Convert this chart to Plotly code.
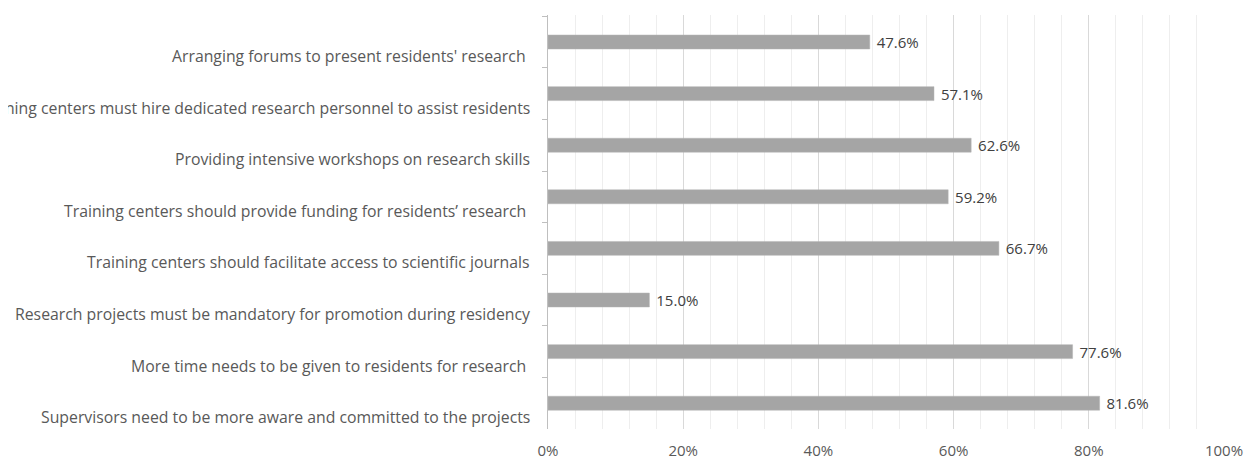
import plotly.graph_objects as go

categories = [
    "Arranging forums to present residents' research ",
    "Training centers must hire dedicated research personnel to assist residents",
    "Providing intensive workshops on research skills",
    "Training centers should provide funding for residents\u2019 research ",
    "Training centers should facilitate access to scientific journals",
    "Research projects must be mandatory for promotion during residency",
    "More time needs to be given to residents for research ",
    "Supervisors need to be more aware and committed to the projects",
]
values = [47.6, 57.1, 62.6, 59.2, 66.7, 15.0, 77.6, 81.6]
value_labels = ["\u00a0" + f"{v:.1f}%" for v in values]
x_tick_vals = [0, 20, 40, 60, 80, 100]
x_tick_text = [f"{v}%" for v in x_tick_vals]

FONT = "Open Sans"
TEXT_COLOR = "#595959"

fig = go.Figure()
fig.add_trace(go.Bar(
    y=categories,
    x=values,
    orientation="h",
    width=0.27,
    marker=dict(color="#A5A5A5", line=dict(color="#B5B5B5", width=0.5)),
    text=value_labels,
    textposition="outside",
    constraintext="none",
    textfont=dict(family=FONT, size=15, color="#404040"),
    cliponaxis=False,
    hoverinfo="skip",
))

annotations = []
for c in categories:
    annotations.append(dict(
        xref="paper", yref="y", x=0, y=c,
        text=c, showarrow=False,
        xanchor="right", yanchor="middle",
        xshift=-16, yshift=-14,
        font=dict(family=FONT, size=15.8, color=TEXT_COLOR),
    ))

fig.update_layout(
    width=1248, height=453,
    margin=dict(l=540, r=32, t=7, b=32, autoexpand=False),
    paper_bgcolor="white", plot_bgcolor="white",
    showlegend=False,
    annotations=annotations,
    bargap=0.73,
)
fig.update_xaxes(
    range=[0, 100],
    tickvals=x_tick_vals, ticktext=x_tick_text,
    showgrid=True, gridcolor="#D9D9D9", gridwidth=1,
    minor=dict(dtick=4, showgrid=True, gridcolor="#EEEEEE", gridwidth=1),
    showline=False, zeroline=False, automargin=False,
    ticks="", ticklabelstandoff=11,
    tickfont=dict(family=FONT, size=15, color=TEXT_COLOR),
)
fig.update_yaxes(
    autorange="reversed", automargin=False,
    showticklabels=False,
    showline=True, linecolor="#BFBFBF", linewidth=1,
    ticks="outside", tickson="boundaries", ticklen=5, tickcolor="#BFBFBF",
    showgrid=False, zeroline=False,
)

fig.write_html("out.html")
